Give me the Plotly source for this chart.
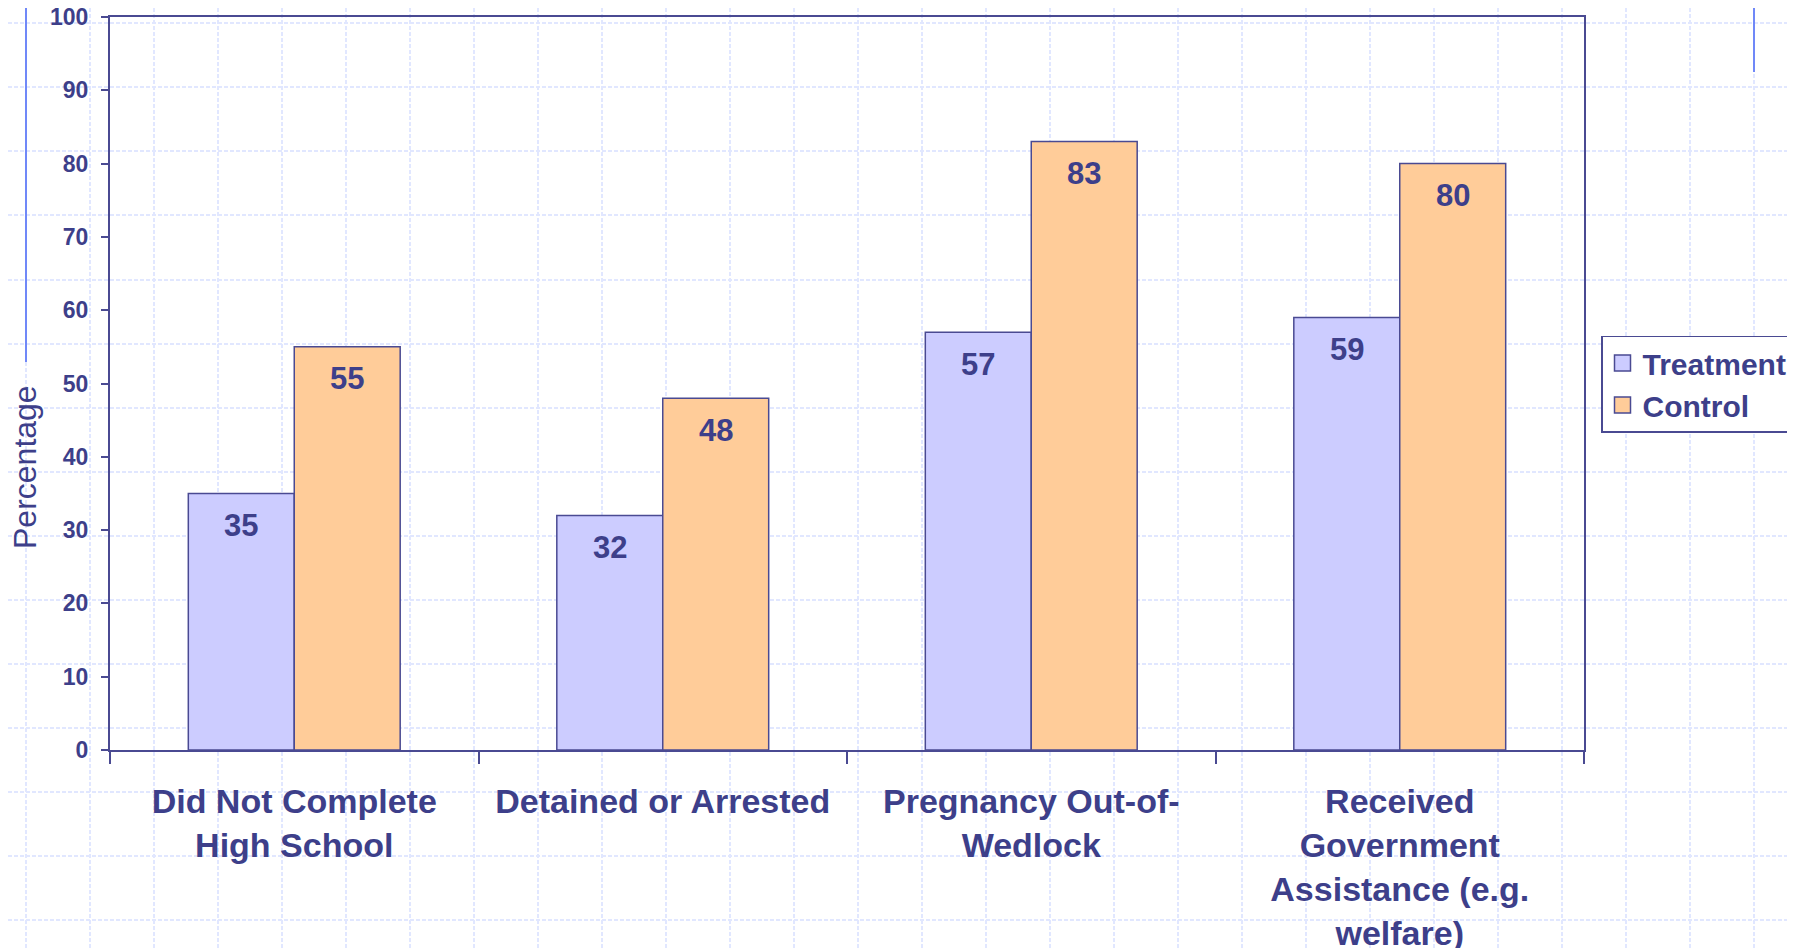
import plotly.graph_objects as go

# ---- data ----
categories = [
    "Did Not Complete<br>High School",
    "Detained or Arrested",
    "Pregnancy Out-of-<br>Wedlock",
    "Received<br>Government<br>Assistance (e.g.<br>welfare)",
]
treatment = [35, 32, 57, 59]
control = [55, 48, 83, 80]
series_names = ["Treatment", "Control"]
y_ticks = [0, 10, 20, 30, 40, 50, 60, 70, 80, 90, 100]

# ---- style ----
REF_W, REF_H = 1795, 948
OFF = 8                      # default page body margin
W, H = REF_W - OFF, REF_H - OFF
NAVY = "#3d3f8a"
EDGE = "#4a4a92"
C_TREAT = "#CCCCFF"
C_CTRL = "#FFCC99"
GRID = "#e1e7ff"
DECOR = "#7088f8"
FONT = "Liberation Sans, Arial, sans-serif"

# plot area in page pixels
PL, PR, PT, PB = 110, 1584, 17, 750
BARGAP = 0.425


def px_x(p):
    return (p - OFF) / W


def px_y(p):
    return 1 - (p - OFF) / H


fig = go.Figure()

# bars (on axis pair 2, drawn above the background grid)
for name, vals, col in [(series_names[0], treatment, C_TREAT), (series_names[1], control, C_CTRL)]:
    fig.add_trace(go.Bar(
        x=categories, y=vals, name=name, xaxis="x2", yaxis="y2",
        marker=dict(color=col, line=dict(color=EDGE, width=1.5)),
        showlegend=False, hoverinfo="x+y",
    ))

# legend entries
for name, col in [(series_names[0], C_TREAT), (series_names[1], C_CTRL)]:
    fig.add_trace(go.Scatter(
        x=[None], y=[None], mode="markers", name=name, xaxis="x", yaxis="y",
        marker=dict(symbol="square", size=16, color=col, line=dict(color=EDGE, width=1.5)),
    ))

# value labels inside the bar tops
bar_w = (PR - PL) / len(categories) * (1 - BARGAP) / 2
annotations = []
for vals, sgn in [(treatment, -1), (control, 1)]:
    for c, v in zip(categories, vals):
        annotations.append(dict(
            x=c, y=v, xref="x2", yref="y2", text=str(v), showarrow=False,
            xanchor="center", yanchor="middle", xshift=sgn * bar_w / 2, yshift=-32,
            font=dict(family=FONT, size=31, color=NAVY, weight="bold"),
        ))
annotations.append(dict(
    text="Percentage", xref="paper", yref="paper",
    x=px_x(25), y=px_y(467), xanchor="center", yanchor="middle",
    textangle=-90, showarrow=False,
    font=dict(family=FONT, size=32, color=NAVY),
))

fig.update_layout(
    width=W, height=H,
    margin=dict(l=0, r=0, t=0, b=0, pad=0, autoexpand=False),
    paper_bgcolor="white", plot_bgcolor="rgba(0,0,0,0)",
    template="none",
    font=dict(family=FONT, color=NAVY),
    barmode="group", bargap=BARGAP, bargroupgap=0,
    showlegend=True,
    legend=dict(
        x=px_x(1601), y=px_y(335.5), xanchor="left", yanchor="top",
        bgcolor="white", bordercolor=EDGE, borderwidth=1.5,
        font=dict(family=FONT, size=30, color=NAVY, weight="bold"),
        itemclick=False, itemdoubleclick=False,
    ),
    # background page grid (units = page pixels)
    xaxis=dict(domain=[0, 1], range=[OFF, REF_W], tick0=26, dtick=64,
               showgrid=True, gridcolor=GRID, griddash="4px,2px", gridwidth=1.5,
               showticklabels=False, ticks="", zeroline=False, showline=False,
               fixedrange=True, automargin=False),
    yaxis=dict(domain=[0, 1], range=[REF_H, OFF], tick0=23.3, dtick=64.05,
               showgrid=True, gridcolor=GRID, griddash="4px,2px", gridwidth=1.5,
               showticklabels=False, ticks="", zeroline=False, showline=False,
               fixedrange=True, automargin=False),
    # chart axes
    xaxis2=dict(domain=[px_x(PL), px_x(PR)], anchor="y2", type="category",
                showline=True, mirror=True, linecolor=EDGE, linewidth=2,
                ticks="outside", tickson="boundaries", ticklen=12, tickwidth=2,
                tickcolor=EDGE, showgrid=False, zeroline=False,
                tickfont=dict(family=FONT, size=34, color=NAVY, weight="bold"),
                ticklabelstandoff=20, ticklabeloverflow="allow",
                automargin=False, fixedrange=True),
    yaxis2=dict(domain=[px_y(PB), px_y(PT)], anchor="x2", range=[0, 100],
                tickvals=y_ticks, ticktext=[str(v) for v in y_ticks],
                showline=True, mirror=True, linecolor=EDGE, linewidth=2,
                ticks="outside", ticklen=7, tickwidth=2, tickcolor=EDGE,
                showgrid=False, zeroline=False,
                tickfont=dict(family=FONT, size=23, color=NAVY, weight="bold"),
                ticklabelstandoff=8, ticklabeloverflow="allow",
                automargin=False, fixedrange=True),
    annotations=annotations,
    shapes=[
        dict(type="line", xref="x", yref="y", x0=26, x1=26, y0=OFF, y1=362,
             line=dict(color=DECOR, width=2), layer="above"),
        dict(type="line", xref="x", yref="y", x0=1754, x1=1754, y0=OFF, y1=72,
             line=dict(color=DECOR, width=2), layer="above"),
    ],
)

fig.write_html("out.html")
